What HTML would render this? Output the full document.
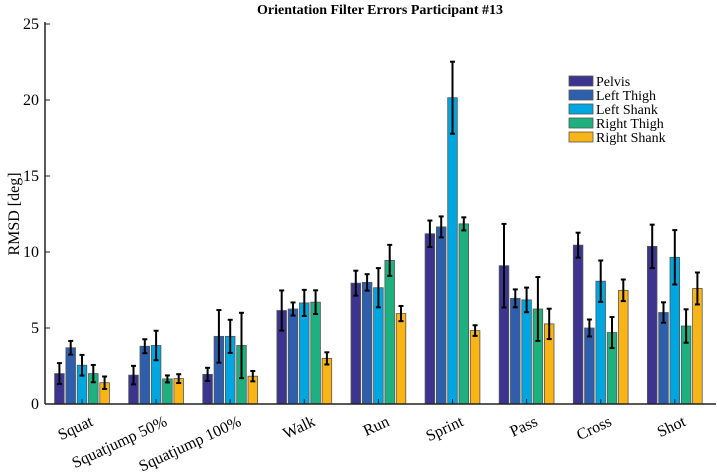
<!DOCTYPE html>
<html><head><meta charset="utf-8"><style>
html,body{margin:0;padding:0;background:#fff;}
svg{display:block;font-family:"Liberation Serif",serif;}
</style></head><body>
<svg id="chart" width="717" height="476">
<text x="380" y="14" text-anchor="middle" font-weight="bold" font-size="14">Orientation Filter Errors Participant #13</text>
<text transform="translate(19,214) rotate(-90)" text-anchor="middle" font-size="16">RMSD [deg]</text>
<g id="bars"></g><g id="axes"></g><g id="legend"></g>
</svg>
<script>
const categories=["Squat","Squatjump 50%","Squatjump 100%","Walk","Run","Sprint","Pass","Cross","Shot"];
const seriesNames=["Pelvis","Left Thigh","Left Shank","Right Thigh","Right Shank"];
const pelvis=[2.0,1.9,1.95,6.15,7.95,11.2,9.1,10.45,10.37];
const leftThigh=[3.7,3.8,4.45,6.25,8.0,11.65,6.95,5.0,6.02];
const leftShank=[2.55,3.85,4.45,6.65,7.65,20.15,6.85,8.08,9.65];
const rightThigh=[2.0,1.65,3.85,6.7,9.45,11.85,6.25,4.7,5.13];
const rightShank=[1.4,1.67,1.83,3.0,5.95,4.83,5.27,7.48,7.6];
const pelvisErr=[0.69,0.61,0.43,1.32,0.82,0.87,2.75,0.82,1.43];
const leftThighErr=[0.45,0.46,1.73,0.43,0.54,0.69,0.59,0.56,0.67];
const leftShankErr=[0.68,0.97,1.09,0.86,1.29,2.37,0.81,1.36,1.79];
const rightThighErr=[0.57,0.23,2.15,0.78,1.02,0.43,2.1,1.02,1.1];
const rightShankErr=[0.41,0.29,0.34,0.4,0.5,0.35,1.0,0.71,1.05];
const yTicks=[0,5,10,15,20,25];
const colors=["#3b3590","#2e5fad","#00a6e0","#1fb07f","#f9b515"];
const series=[pelvis,leftThigh,leftShank,rightThigh,rightShank];
const errs=[pelvisErr,leftThighErr,leftShankErr,rightThighErr,rightShankErr];
const NS="http://www.w3.org/2000/svg";
const X0=45,X1=716,Y0=404,Y1=24;
function y(v){return Y0-(v/25)*(Y0-Y1);}
function xc(i){return 82+i*74.1;}
function mk(t,a,p){const e=document.createElementNS(NS,t);for(const k in a)e.setAttribute(k,a[k]);p.appendChild(e);return e;}
const bars=document.getElementById('bars'),axes=document.getElementById('axes'),leg=document.getElementById('legend');
const pitch=11.3,bw=9.6;
categories.forEach((c,i)=>{
 series.forEach((s,k)=>{
  const cx=xc(i)+(k-2)*pitch;
  const r=mk('rect',{x:cx-bw/2,y:y(s[i]),width:bw,height:Y0-y(s[i]),fill:colors[k],stroke:'#555','stroke-width':0.8},bars);
  
  
  const e=errs[k][i],hi=y(s[i]+e),lo=y(s[i]-e);
  const g=mk('g',{stroke:'#000','stroke-width':2},bars);
  
  
  mk('line',{x1:cx,x2:cx,y1:hi,y2:lo},g);
  mk('line',{x1:cx-2.5,x2:cx+2.5,y1:hi,y2:hi},g);
  mk('line',{x1:cx-2.5,x2:cx+2.5,y1:lo,y2:lo},g);
 });
 mk('line',{x1:xc(i),x2:xc(i),y1:Y0,y2:Y0-5,stroke:'#222','stroke-width':1},axes);
 const t=mk('text',{transform:`translate(${xc(i)+12},${Y0+21}) rotate(-25)`,'text-anchor':'end','font-size':16},axes);
 t.textContent=c;
 
 
});
mk('line',{x1:X0,x2:X0,y1:Y1-2,y2:Y0,stroke:'#222','stroke-width':1.5},axes);
mk('line',{x1:X0,x2:X1,y1:Y0,y2:Y0,stroke:'#222','stroke-width':1.5},axes);
yTicks.forEach(v=>{
 mk('line',{x1:X0,x2:X0+5,y1:y(v),y2:y(v),stroke:'#222','stroke-width':1},axes);
 const t=mk('text',{x:X0-6,y:y(v)+5,'text-anchor':'end','font-size':16},axes);
 t.textContent=v;
 
 
});
seriesNames.forEach((n,k)=>{
 const g=mk('g',{},leg);
 
 
 mk('rect',{x:569,y:76+k*14,width:24,height:10,fill:colors[k],stroke:'#555','stroke-width':0.8},g);
 const t=mk('text',{x:596,y:86+k*14,'font-size':14},g);
 t.textContent=n;
});
</script>
</body></html>
